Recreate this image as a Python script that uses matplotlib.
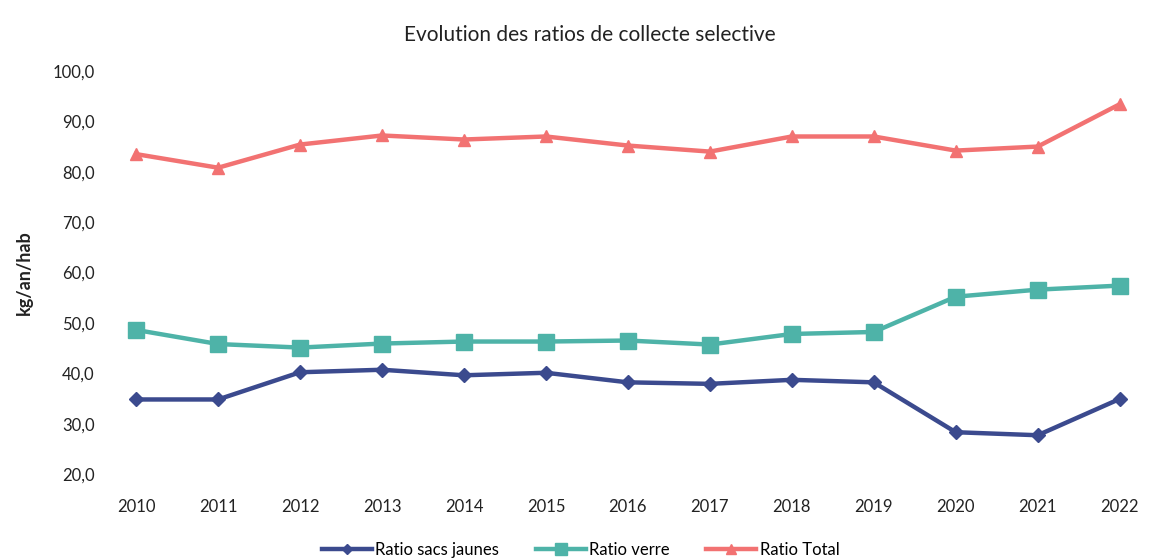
import matplotlib
matplotlib.use('Agg')
import matplotlib.pyplot as plt
from matplotlib.ticker import FuncFormatter

plt.rcParams['font.family'] = ['Lato', 'DejaVu Sans']

YEARS = list(range(2010, 2023))
SACS_JAUNES = [34.8, 34.8, 40.2, 40.7, 39.6, 40.1, 38.2, 37.9, 38.7, 38.2, 28.3, 27.7, 34.9]
VERRE = [48.6, 45.8, 45.1, 45.9, 46.3, 46.3, 46.5, 45.7, 47.8, 48.2, 55.2, 56.6, 57.4]
TOTAL = [83.5, 80.8, 85.4, 87.2, 86.4, 87.0, 85.2, 84.0, 87.0, 87.0, 84.2, 85.0, 93.4]

LABELS = ['Ratio sacs jaunes', 'Ratio verre', 'Ratio Total']
COLORS = ['#3b4a8e', '#4eb3a8', '#f27272']
MARKERS = ['D', 's', '^']
MSIZES = [7, 11, 9]

fig = plt.figure(figsize=(11.5, 5.59), dpi=100)
ax = fig.add_axes([0.097, 0.152, 0.898, 0.721])

for vals, lab, col, mk, ms in zip([SACS_JAUNES, VERRE, TOTAL], LABELS, COLORS, MARKERS, MSIZES):
    ax.plot(YEARS, vals, color=col, linewidth=3.2, marker=mk, markersize=ms, label=lab)

ax.set_xlim(2009.7, 2022.3)
ax.set_ylim(20, 100)
ax.set_yticks(range(20, 101, 10))
ax.yaxis.set_major_formatter(FuncFormatter(lambda v, p: f'{v:.1f}'.replace('.', ',')))
ax.set_xticks(YEARS)
ax.tick_params(length=0, labelsize=12, colors='#222222')
ax.tick_params(axis='x', pad=18)
ax.tick_params(axis='y', pad=12)
for s in ax.spines.values():
    s.set_visible(False)

ax.set_ylabel('kg/an/hab', fontsize=13, fontweight='bold', color='#222222', labelpad=14)
fig.suptitle('Evolution des ratios de collecte selective', x=0.513, y=0.955,
             fontsize=15, color='#222222')

leg = fig.legend(loc='lower center', bbox_to_anchor=(0.505, -0.025), ncol=3, frameon=False,
                 fontsize=12, handlelength=3, columnspacing=2.2, handletextpad=0.2,
                 markerscale=0.75)

plt.savefig('out.png', dpi=100)
plt.close()
